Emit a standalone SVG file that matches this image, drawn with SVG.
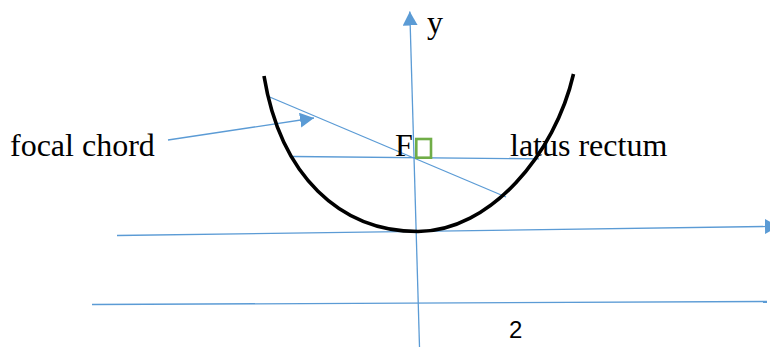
<svg xmlns="http://www.w3.org/2000/svg" width="770" height="347" viewBox="0 0 770 347">
  <style>
    .ax { stroke: #5B9BD5; stroke-width: 1.3; fill: none; }
    .lbl { font-family: "Liberation Serif", "Times New Roman", serif; font-size: 32px; fill: #000; }
    .num { font-family: "Liberation Sans", Arial, sans-serif; font-size: 24px; fill: #000; }
  </style>
  <defs>
    <marker id="arr" markerUnits="userSpaceOnUse" markerWidth="16" markerHeight="16" refX="14" refY="7.5" orient="auto">
      <path d="M0,0 L14,7.5 L0,15 z" fill="#5B9BD5"/>
    </marker>
  </defs>
  <rect width="770" height="347" fill="#fff"/>
  <g id="connectors">
    <line class="ax" x1="419.5" y1="347" x2="409.8" y2="11.5" marker-end="url(#arr)"/>
    <line class="ax" x1="117" y1="235.5" x2="779" y2="226.3" marker-end="url(#arr)"/>
    <line class="ax" x1="92" y1="304.5" x2="767" y2="301.5"/>
    <line id="focal-chord" class="ax" x1="267.3" y1="96" x2="506" y2="197"/>
    <line id="latus-rectum" class="ax" x1="293" y1="156.5" x2="539" y2="158.8"/>
    <line class="ax" x1="168" y1="140" x2="314" y2="118" marker-end="url(#arr)"/>
  </g>
  <g id="parabola">
    <path d="M264,76 C280.5,176 340,231.5 418,231.5 C490,231.5 555.1,154 573.5,74" fill="none" stroke="#000" stroke-width="3.6"/>
  </g>
  <g id="focus">
    <rect x="416.3" y="139" width="14.7" height="18.7" fill="none" stroke="#70AD47" stroke-width="2.6"/>
    <text class="lbl" x="395" y="156">F</text>
  </g>
  <g id="labels">
    <text class="lbl" x="427" y="33">y</text>
    <text class="lbl" x="10" y="156">focal chord</text>
    <text class="lbl" x="510" y="156">latus rectum</text>
    <text class="num" x="509" y="338">2</text>
  </g>
</svg>
